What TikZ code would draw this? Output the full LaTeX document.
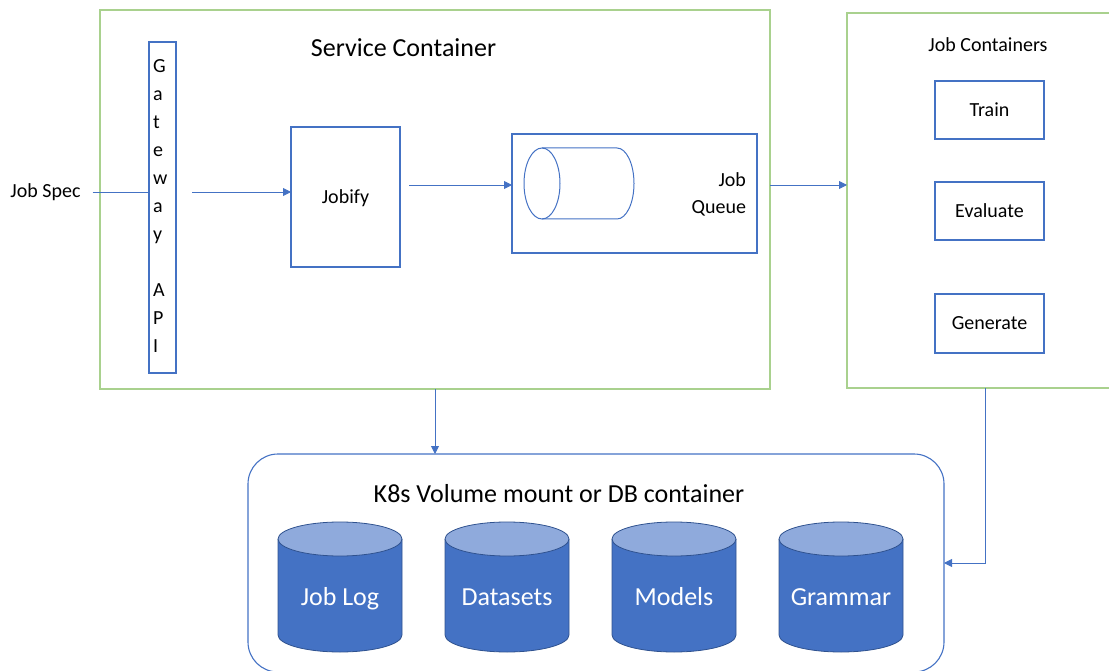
\documentclass[tikz,border=0pt]{standalone}
\usepackage{fontspec}
\setmainfont{Carlito}
\usetikzlibrary{arrows.meta}

\definecolor{boxblue}{RGB}{68,114,196}
\definecolor{framegreen}{RGB}{169,209,142}
\definecolor{dbbody}{RGB}{68,114,196}
\definecolor{dbtop}{RGB}{143,170,220}
\definecolor{dbedge}{RGB}{47,82,143}

\begin{document}
\begin{tikzpicture}[x=1pt,y=-1pt,
  outerframe/.style={draw=framegreen,line width=1.4pt,inner sep=0pt,outer sep=0pt},
  box/.style={draw=boxblue,line width=1.1pt,inner sep=0pt,outer sep=0pt,
    text height=13pt,text depth=0pt,font=\fontsize{20}{24}\selectfont},
  lbl/.style={inner sep=0pt,outer sep=0pt,font=\fontsize{20}{24}\selectfont},
  bigtitle/.style={inner sep=0pt,outer sep=0pt,font=\fontsize{26}{31}\selectfont},
  conn/.style={draw=boxblue,line width=0.9pt},
  arr/.style={conn,-{Triangle[length=8pt,width=8pt]}},
  dblbl/.style={inner sep=0pt,outer sep=0pt,text=white,
    font=\fontsize{26}{31}\selectfont,text height=17pt,text depth=0pt}
]
\useasboundingbox (0,0) rectangle (1109,671);
\clip (0,0) rectangle (1109,671);

% service container
\node[outerframe,minimum width=670pt,minimum height=379pt] (service) at (435,199.5) {};
\node[bigtitle,anchor=base] (servicetitle) at (403.5,57) {Service Container};

% gateway column
\node[box,minimum width=27pt,minimum height=331pt] (gw) at (162.5,207.5) {};
\node[inner sep=0pt,outer sep=0pt,align=left,anchor=north west,
  font=\fontsize{20}{28}\selectfont] (gwtext) at (153,60)
  {G\\a\\t\\e\\w\\a\\y\\\mbox{}\\A\\P\\I};

% job spec input
\node[lbl,text height=13pt,text depth=1pt] (jobspec) at (45.5,192) {Job Spec};

% jobify
\node[box,minimum width=109pt,minimum height=140pt] (jobify) at (345.5,197) {Jobify};

% job queue
\node[box,minimum width=245pt,minimum height=119pt] (queue) at (634.5,193.5) {};
\draw[boxblue,line width=1pt] (542,148) -- (617,148)
  arc[start angle=90,end angle=-90,x radius=17pt,y radius=35.5pt] -- (542,219);
\draw[boxblue,line width=1pt] (542,183.5) ellipse[x radius=18pt,y radius=35.5pt];
\node[inner sep=0pt,outer sep=0pt,align=right,anchor=north east,
  font=\fontsize{20}{27}\selectfont] (queuetext) at (746,173) {Job\\Queue};

% job containers
\node[outerframe,minimum width=276pt,minimum height=375pt] (jobcont) at (985,200.5) {};
\node[lbl,anchor=base] (jobconttitle) at (988,52) {Job Containers};
\node[box,minimum width=109pt,minimum height=58pt] (train) at (989.5,110) {Train};
\node[box,minimum width=109pt,minimum height=58pt] (evaluate) at (989.5,211) {Evaluate};
\node[box,minimum width=109pt,minimum height=59pt] (generate) at (989.5,323.5) {Generate};

% storage
\node[draw=boxblue,line width=1.1pt,rounded corners=30pt,inner sep=0pt,outer sep=0pt,
  minimum width=696pt,minimum height=218pt] (k8s) at (596,563) {};
\node[bigtitle,anchor=base] (k8stitle) at (559,502) {K8s Volume mount or DB container};

\foreach \cx/\nm/\txt in {340/joblog/Job Log,507/datasets/Datasets,674/models/Models,841/grammar/Grammar}{
  \fill[dbbody] (\cx-62,539) -- (\cx-62,635)
    arc[start angle=180,end angle=360,x radius=62pt,y radius=17pt] -- (\cx+62,539) -- cycle;
  \draw[dbedge,line width=0.8pt] (\cx-62,539) -- (\cx-62,635)
    arc[start angle=180,end angle=360,x radius=62pt,y radius=17pt] -- (\cx+62,539);
  \filldraw[fill=dbtop,draw=dbedge,line width=0.8pt] (\cx,539) ellipse[x radius=62pt,y radius=17pt];
  \node[dblbl] (\nm) at (\cx,596.5) {\txt};
}

% connectors
\draw[conn] ([xshift=12pt]jobspec.east) -- (jobspec.east -| gw.west);
\coordinate (gwout) at ([xshift=16pt]gw.east);
\draw[arr] (gwout |- jobspec.east) -- (jobspec.east -| jobify.west);
\coordinate (jqout) at ([xshift=9pt,yshift=12pt]jobify.east);
\draw[arr] (jqout) -- (jqout -| queue.west);
\draw[arr] (service.east |- jqout) -- (jobcont.west |- jqout);
\draw[arr] (service.south) -- (service.south |- k8s.north);
\draw[arr] (jobcont.south) |- (k8s.east);
\end{tikzpicture}
\end{document}
